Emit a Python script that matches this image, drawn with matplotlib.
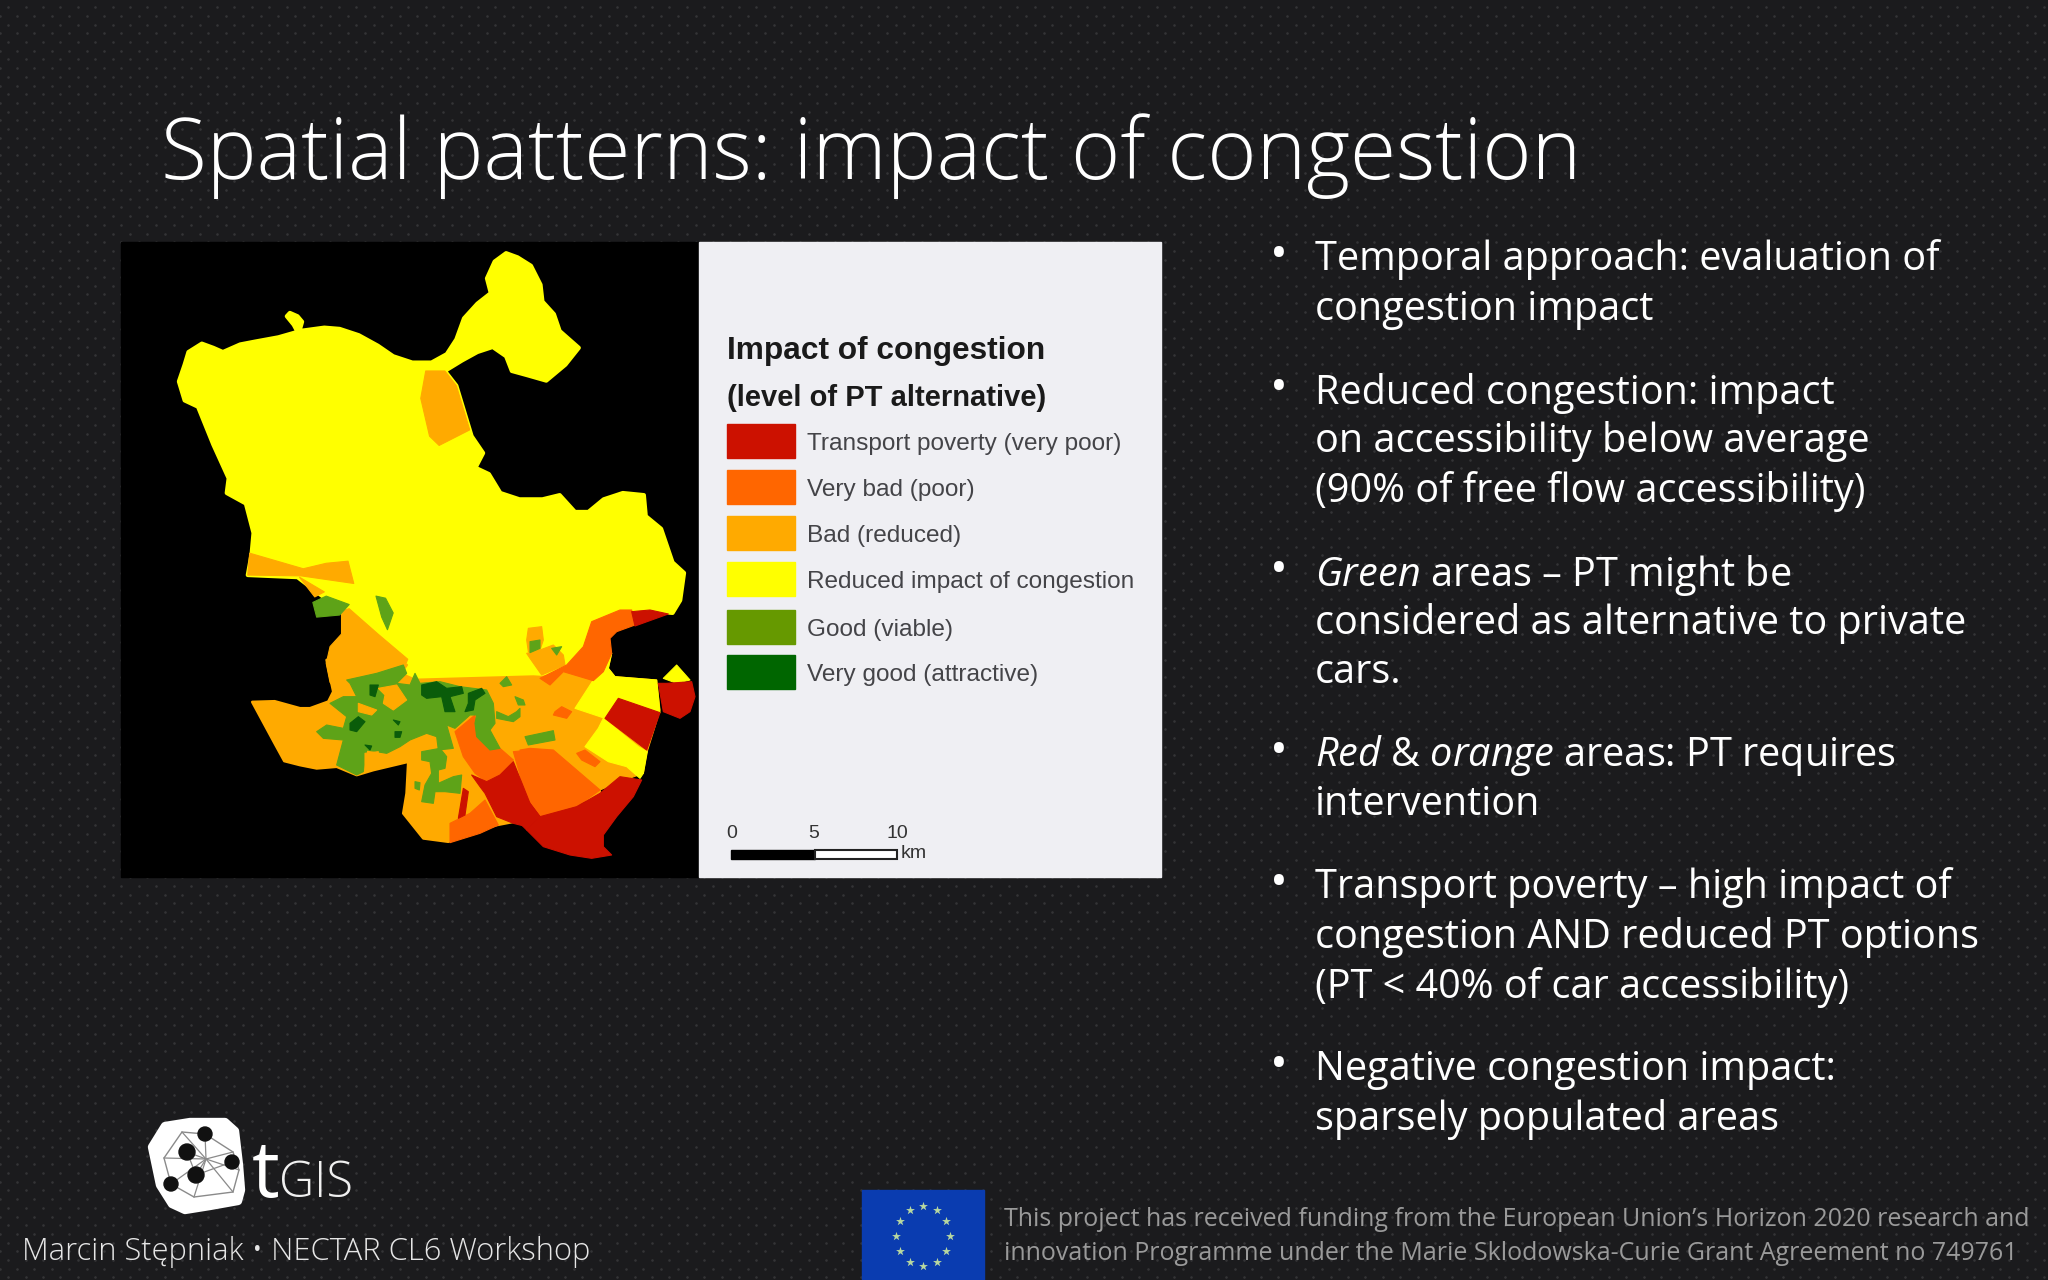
import numpy as np
import matplotlib
matplotlib.use('Agg')
import matplotlib.pyplot as plt
from matplotlib.patches import Polygon, Rectangle, Circle
from matplotlib.transforms import Affine2D

W, H = 2048, 1280
BG = '#1b1b1d'
RED, DORANGE, ORANGE, YELLOW, GREEN, DGREEN = '#cc1100', '#ff6600', '#ffaa00', '#ffff00', '#5ea318', '#0a5c0a'

title = 'Spatial patterns: impact of congestion'

# slide bullets: (text lines, y of each line)
bullets = [
    (['Temporal approach: evaluation of', 'congestion impact'], [260, 310]),
    (['Reduced congestion: impact', 'on accessibility below average', '(90% of free flow accessibility)'], [393, 442, 491]),
    ([r'$\mathit{Green}$ areas – PT might be', 'considered as alternative to private', 'cars.'], [575, 623, 673]),
    ([r'$\mathit{Red}$ & $\mathit{orange}$ areas: PT requires', 'intervention'], [756, 805]),
    (['Transport poverty – high impact of', 'congestion AND reduced PT options', '(PT < 40% of car accessibility)'], [888, 938, 987]),
    (['Negative congestion impact:', 'sparsely populated areas'], [1070, 1119]),
]

legend_labels = ['Transport poverty (very poor)', 'Very bad (poor)', 'Bad (reduced)',
                 'Reduced impact of congestion', 'Good (viable)', 'Very good (attractive)']
legend_colors = ['#cc1100', '#ff6600', '#ffaa00', '#ffff00', '#669900', '#006600']
legend_top = [424, 470, 516, 562, 610, 655]

# map regions traced from three views of the map, each list has its own frame
# frame A: whole map
yellow_main = [(180,360),(195,320),(205,290),(240,270),(270,280),(295,290),(340,272),(380,265),(440,255),(490,242),(480,225),(462,205),(470,197),(490,205),(502,218),(495,240),(560,232),(600,235),(650,250),(700,275),(740,300),(790,315),(840,315),(880,295),(905,260),(925,210),(960,175),(995,150),(985,115),(1005,75),(1035,55),(1065,65),(1100,85),(1125,130),(1130,170),(1160,200),(1175,240),(1225,280),(1190,320),(1140,358),(1090,345),(1050,335),(1035,300),(1000,278),(960,290),(920,310),(875,335),(905,370),(925,430),(945,490),(975,530),(955,565),(990,580),(1020,625),(1070,640),(1130,640),(1175,630),(1215,670),(1250,670),(1290,640),(1340,625),(1395,630),(1400,680),(1440,710),(1470,790),(1500,815),(1490,880),(1470,910),(1400,905),(1330,905),(1260,935),(1240,1030),(1150,1100),(1000,1110),(800,1100),(770,1040),(600,900),(540,860),(490,825),(360,820),(370,770),(375,720),(355,650),(305,625),(310,590),(270,510),(230,420),(195,405)]
orange_a = [
    [(625,900),(700,960),(778,1020),(760,1060),(620,1095),(600,1105),(575,1075),(565,1030),(575,990),(605,960),(605,905)],
    [(365,768),(505,805),(565,792),(622,787),(637,840),(500,822),(360,820)],
    [(495,825),(560,860),(535,872)],
    [(825,335),(875,335),(905,370),(925,430),(940,475),(860,512),(835,490),(812,400)],
]
green_a = [
    [(530,885),(565,870),(625,890),(600,915),(540,920)],
    [(695,870),(720,875),(740,910),(725,950),(710,920)],
]

# frame B: south-west close up
south_base = [(-143,126),(-76,124),(0,145),(30,145),(85,125),(100,95),(80,0),(320,15),(300,40),(345,60),(700,50),(860,60),(900,405),(720,470),(590,495),(500,520),(445,545),(370,535),(350,510),(310,460),(320,400),(325,305),(220,330),(170,345),(110,320),(50,325),(0,315),(-47,303),(-76,250)]
dorange_b = [
    [(465,215),(525,165),(530,230),(570,270),(600,265),(640,300),(600,345),(560,365),(525,340),(490,290)],
    [(450,490),(510,460),(555,420),(595,495),(540,520),(450,548)],
    [(640,275),(690,270),(700,300),(720,470),(690,430),(670,380)],
]
red_b = [
    [(515,345),(560,365),(600,345),(640,305),(670,380),(690,430),(720,470),(680,500),(640,490),(590,470),(555,400),(540,380)],
    [(490,385),(505,395),(495,465),(475,475)],
]
green_b = [
    [(140,60),(230,40),(310,15),(320,40),(290,70),(330,75),(345,40),(360,70),(420,65),(480,80),(560,90),(580,130),(585,190),(570,210),(600,265),(570,270),(530,230),(525,190),(530,165),(510,165),(465,205),(440,195),(460,265),(415,270),(410,230),(380,220),(330,240),(300,260),(260,280),(200,270),(190,335),(170,345),(110,315),(130,240),(70,235),(50,215),(80,195),(130,205),(140,170),(90,130),(130,110),(170,110),(150,70)],
    [(365,275),(420,265),(440,290),(435,325),(415,330),(415,370),(460,350),(485,345),(480,400),(435,395),(405,395),(400,430),(365,425),(375,375),(395,340),(390,305),(365,300)],
    [(345,365),(360,368),(358,390),(345,385)],
    [(590,155),(625,170),(650,155),(660,145),(660,170),(640,185),(590,175)],
    [(645,110),(670,120),(675,135),(655,135)],
    [(600,70),(620,50),(635,75),(610,80)],
]
orange_holes_b = [
    [(235,85),(290,75),(320,120),(280,150),(250,130),(255,105)],
    [(175,130),(230,150),(215,165),(175,155)],
    [(195,280),(235,275),(230,320),(195,335)],
]
dgreen_b = [
    [(365,75),(410,65),(440,85),(485,80),(490,100),(450,110),(465,155),(435,155),(425,110),(380,115),(365,105)],
    [(505,100),(545,85),(555,100),(525,120),(520,150),(495,155),(505,130)],
    [(150,190),(175,170),(195,185),(170,215),(150,210)],
    [(210,75),(235,75),(225,110),(210,105)],
    [(280,180),(300,185),(295,195)],
    [(285,215),(305,215),(300,232),(285,232)],
    [(195,255),(215,258),(210,270)],
]

# frame C: south-east close up
east_orange = [(0,265),(65,260),(130,245),(220,270),(250,245),(275,190),(265,235),(285,260),(410,270),(420,360),(405,410),(380,490),(370,550),(300,575),(240,600),(100,480),(0,480)]
orange_c = [
    [(20,190),(60,180),(100,165),(130,195),(135,225),(65,255),(30,205)],
    [(25,115),(65,110),(70,150),(60,180),(25,185),(20,150)],
]
yellow_c = [
    [(165,355),(220,270),(250,245),(275,190),(265,235),(285,260),(410,270),(420,368),(380,365),(295,325),(255,385)],
    [(250,385),(355,470),(382,485),(370,550),(360,565),(320,530),(265,515),(195,470),(235,415)],
    [(430,265),(470,225),(510,270),(470,280)],
]
dorange_c = [
    [(215,95),(300,60),(335,60),(345,105),(290,125),(270,145),(275,190),(250,245),(220,272),(130,245),(90,285),(60,265),(140,225),(190,170)],
    [(0,480),(30,475),(100,480),(240,600),(170,650),(60,680),(15,600)],
    [(105,365),(125,350),(155,365),(140,385),(100,375)],
    [(170,490),(195,480),(240,515),(225,530),(185,510)],
]
red_c = [
    [(335,65),(390,60),(445,72),(345,108)],
    [(295,325),(420,368),(405,410),(380,480),(255,385)],
    [(415,280),(440,280),(515,275),(525,320),(510,365),(480,385),(430,365)],
    [(365,570),(340,620),(290,680),(250,735),(250,770),(275,795),(215,805),(150,795),(70,770),(20,720),(60,680),(170,650),(240,610),(300,560)],
    [(0,600),(60,680),(20,720),(0,700)],
]
green_c = [
    [(15,440),(100,422),(105,450),(25,465)],
    [(30,155),(60,150),(60,175),(30,188)],
    [(95,175),(125,170),(110,195)],
]

plt.rcParams['font.family'] = ['Open Sans', 'DejaVu Sans']
plt.rcParams['mathtext.fontset'] = 'custom'
plt.rcParams['mathtext.it'] = 'Open Sans:italic'
plt.rcParams['mathtext.rm'] = 'Open Sans'

fig = plt.figure(figsize=(W / 100, H / 100), dpi=100, facecolor=BG)
ax = fig.add_axes([0, 0, 1, 1])
ax.set_xlim(0, W)
ax.set_ylim(H, 0)
ax.axis('off')

# dotted slide texture
gx, gy = np.meshgrid(np.arange(0, W + 18, 17.4), np.arange(0, H + 18, 17.4))
ax.scatter(gx.ravel() - 0.5, gy.ravel() + 16, s=3.5, color='#343436', linewidths=0, zorder=0)
ax.scatter(gx.ravel() + 8.2, gy.ravel() + 7.3, s=3.5, color='#343436', linewidths=0, zorder=0)

ax.text(161, 156, title, color='white', fontsize=60.5, fontweight='light', va='center', ha='left')

for lines, ys in bullets:
    ax.text(1279, ys[0] - 4, '•', color='white', fontsize=34, va='center', ha='center')
    for line, y in zip(lines, ys):
        ax.text(1315, y, line, color='white', fontsize=28.5, va='center', ha='left')

# map panel and legend panel
ax.add_patch(Rectangle((121, 242), 578, 635, color='black', zorder=1))
ax.add_patch(Rectangle((699, 242), 462, 635, color='#efeff3', zorder=1))

frame_a = Affine2D().scale(0.3827, 0.4208).translate(110, 230) + ax.transData
frame_b = Affine2D().scale(1 / 3).translate(300, 660) + ax.transData
frame_c = Affine2D().scale(1 / 3).translate(520, 590) + ax.transData


def fill(regions, color, frame, lw=0.8):
    for reg in regions:
        ax.add_patch(Polygon(reg, closed=True, facecolor=color, edgecolor=color, linewidth=lw,
                             joinstyle='round', transform=frame, zorder=2))


fill([yellow_main], YELLOW, frame_a, lw=3)
fill(orange_a, ORANGE, frame_a)
fill([south_base], ORANGE, frame_b, lw=2)
fill([east_orange], ORANGE, frame_c)
fill(orange_c, ORANGE, frame_c)
fill(yellow_c, YELLOW, frame_c)
fill(dorange_c, DORANGE, frame_c)
fill(dorange_b, DORANGE, frame_b)
fill(red_c, RED, frame_c)
fill(red_b, RED, frame_b)
fill(green_a, GREEN, frame_a)
fill(green_b, GREEN, frame_b)
fill(green_c, GREEN, frame_c)
fill(orange_holes_b, ORANGE, frame_b)
fill(dgreen_b, DGREEN, frame_b)

# legend
ax.text(727, 351, 'Impact of congestion', color='#1a1a1a', fontsize=22.8, fontweight='bold', family='Liberation Sans', va='center')
ax.text(727, 398, '(level of PT alternative)', color='#1a1a1a', fontsize=21, fontweight='bold', family='Liberation Sans', va='center')
for lab, col, top in zip(legend_labels, legend_colors, legend_top):
    ax.add_patch(Rectangle((727, top), 68, 34, color=col, zorder=2))
    ax.text(807, top + 20, lab, color='#444448', fontsize=17.6, family='Liberation Sans', va='center')

# scale bar
for lab, x in zip(['0', '5', '10'], [732, 814, 897]):
    ax.text(x, 834, lab, color='#333333', fontsize=14, family='Liberation Sans', va='center', ha='center')
ax.add_patch(Rectangle((731, 850), 84, 9, facecolor='black', edgecolor='black', linewidth=1, zorder=2))
ax.add_patch(Rectangle((815, 850), 82, 9, facecolor='white', edgecolor='#222222', linewidth=1.5, zorder=2))
ax.text(901, 854, 'km', color='#333333', fontsize=14, family='Liberation Sans', va='center')

# tGIS logo
blob = [(152,1147),(165,1126),(190,1122),(225,1122),(235,1131),(239,1165),(241,1190),(238,1201),(210,1206),(185,1210),(172,1204),(160,1185)]
ax.add_patch(Polygon(blob, closed=True, facecolor='white', edgecolor='white', linewidth=6, joinstyle='round', zorder=2))
ring = [(182,1132),(205,1134),(233,1152),(239,1170),(233,1192),(194,1197),(171,1184),(164,1158)]
hub = (206, 1159)
ax.add_patch(Polygon(ring, closed=True, fill=False, edgecolor='#8a8a8a', linewidth=1, zorder=3))
for p in ring + [(187,1152),(196,1175)]:
    ax.plot([hub[0], p[0]], [hub[1], p[1]], color='#8a8a8a', lw=0.9, zorder=3)
for p in [(187,1152),(232,1162)]:
    ax.plot([196, p[0]], [1175, p[1]], color='#8a8a8a', lw=0.9, zorder=3)
for x, y, r in [(205,1134,7),(187,1152,8),(232,1162,7),(196,1175,8),(171,1184,7)]:
    ax.add_patch(Circle((x, y), r, color='#111111', zorder=4))
ax.text(252, 1197, 't', color='white', fontsize=56, va='baseline')
ax.text(279, 1197, 'GIS', color='#f0f0f0', fontsize=35, fontweight='light', va='baseline')

# footer
ax.text(22, 1252, 'Marcin Stępniak • NECTAR CL6 Workshop', color='#e6e6e6', fontsize=22.2, fontweight='light', va='center')

# EU flag
ax.add_patch(Rectangle((862, 1190), 122, 90, color='#0a3cb0', zorder=2))
for a in np.arange(12) * 30:
    ax.scatter(923 + 27 * np.sin(np.radians(a)), 1236 - 30 * np.cos(np.radians(a)), s=45, marker='*', color='#b8d8a0', linewidths=0, zorder=3)

ax.text(1004, 1220, 'This project has received funding from the European Union’s Horizon 2020 research and', color='#9a9a9a', fontsize=18, va='center')
ax.text(1004, 1254, 'innovation Programme under the Marie Sklodowska-Curie Grant Agreement no 749761', color='#9a9a9a', fontsize=18, va='center')

fig.savefig('out.png', dpi=100, facecolor=BG)
